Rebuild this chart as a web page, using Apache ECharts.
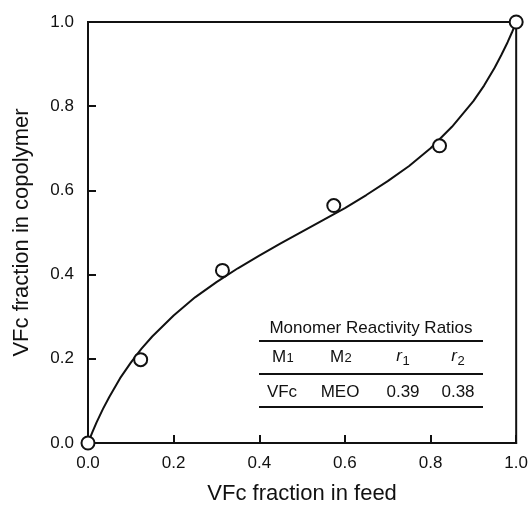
<!DOCTYPE html>
<html>
<head>
<meta charset="utf-8">
<script src="https://cdn.jsdelivr.net/npm/echarts@6/dist/echarts.min.js"></script>
<style>html,body{margin:0;padding:0;background:#fff}#c{width:531px;height:510px}</style>
</head>
<body>
<div id="c"></div>
<script>
// fitted copolymer-composition curve
var curveFeed = [0, 0.01, 0.02, 0.035, 0.05, 0.075, 0.10, 0.125, 0.15, 0.20, 0.25, 0.30, 0.35, 0.40, 0.45, 0.50, 0.55, 0.60, 0.65, 0.70, 0.75, 0.80, 0.85, 0.90, 0.925, 0.95, 0.965, 0.98, 0.99, 1.0];
var curveCopolymer = [0, 0.025, 0.049, 0.081, 0.110, 0.154, 0.191, 0.224, 0.253, 0.303, 0.346, 0.382, 0.415, 0.445, 0.474, 0.502, 0.530, 0.558, 0.589, 0.622, 0.658, 0.700, 0.751, 0.812, 0.849, 0.892, 0.921, 0.952, 0.975, 1.0];
// experimental points
var pointFeed = [0, 0.123, 0.314, 0.574, 0.821, 1.0];
var pointCopolymer = [0, 0.198, 0.41, 0.564, 0.706, 1.0];
// inset table
var tableTitle = 'Monomer Reactivity Ratios';
var tableRow = ['VFc', 'MEO', '0.39', '0.38'];
var xTitle = 'VFc fraction in feed';
var yTitle = 'VFc fraction in copolymer';

var FONT = '"Liberation Sans", Arial, Helvetica, sans-serif';
var chart = echarts.init(document.getElementById('c'));

var curve = curveFeed.map(function (x, i) { return [x, curveCopolymer[i]]; });
var pts = pointFeed.map(function (x, i) { return [x, pointCopolymer[i]]; });

function txt(x, y, t, size, style) {
  return { type: 'text', x: x, y: y, z: 50,
    style: { text: t, fill: '#111', fontFamily: FONT, fontSize: size, fontStyle: style || 'normal', align: 'center', verticalAlign: 'middle' } };
}
function hline(y) {
  return { type: 'line', z: 50, shape: { x1: 259, y1: y, x2: 483, y2: y }, style: { stroke: '#111', lineWidth: 2 } };
}

var colX = [282, 340, 403, 458];
var graphics = [
  txt(371, 328, tableTitle, 17),
  hline(341), hline(374), hline(407),
  txt(colX[0] - 3, 357, 'M', 17), txt(colX[0] + 8, 358, '1', 13),
  txt(colX[1] - 3, 357, 'M', 17), txt(colX[1] + 8, 358, '2', 13),
  txt(colX[2] - 4, 356, 'r', 17, 'italic'), txt(colX[2] + 3, 361, '1', 13),
  txt(colX[3] - 4, 356, 'r', 17, 'italic'), txt(colX[3] + 3, 361, '2', 13)
];
tableRow.forEach(function (t, i) { graphics.push(txt(colX[i], 392, t, 17)); });

chart.setOption({
  backgroundColor: '#fff',
  animation: false,
  grid: { left: 88, right: 12, top: 22, bottom: 59, show: true, borderColor: '#111', borderWidth: 2, backgroundColor: 'transparent' },
  xAxis: {
    type: 'value', min: 0, max: 1, interval: 0.2,
    name: xTitle, nameLocation: 'middle', nameGap: 40,
    nameTextStyle: { fontFamily: FONT, fontSize: 22, color: '#111' },
    axisLine: { show: true, lineStyle: { color: '#111', width: 2 } },
    axisTick: { show: true, inside: true, length: 8, lineStyle: { color: '#111', width: 2 } },
    axisLabel: { fontFamily: FONT, fontSize: 17, color: '#111', margin: 12, formatter: function (v) { return v.toFixed(1); } },
    splitLine: { show: false }
  },
  yAxis: {
    type: 'value', min: 0, max: 1, interval: 0.2,
    name: yTitle, nameLocation: 'middle', nameGap: 55,
    nameTextStyle: { fontFamily: FONT, fontSize: 22, color: '#111' },
    axisLine: { show: true, lineStyle: { color: '#111', width: 2 } },
    axisTick: { show: true, inside: true, length: 8, lineStyle: { color: '#111', width: 2 } },
    axisLabel: { fontFamily: FONT, fontSize: 17, color: '#111', margin: 14, formatter: function (v) { return v.toFixed(1); } },
    splitLine: { show: false }
  },
  series: [
    { type: 'line', data: curve, smooth: false, showSymbol: false, symbol: 'none', clip: false,
      lineStyle: { color: '#111', width: 2, join: 'round' }, z: 3 },
    { type: 'scatter', data: pts, symbol: 'circle', symbolSize: 13, clip: false,
      itemStyle: { color: '#fff', borderColor: '#111', borderWidth: 2, opacity: 1 }, z: 5 }
  ],
  graphic: graphics
});
</script>
</body>
</html>
